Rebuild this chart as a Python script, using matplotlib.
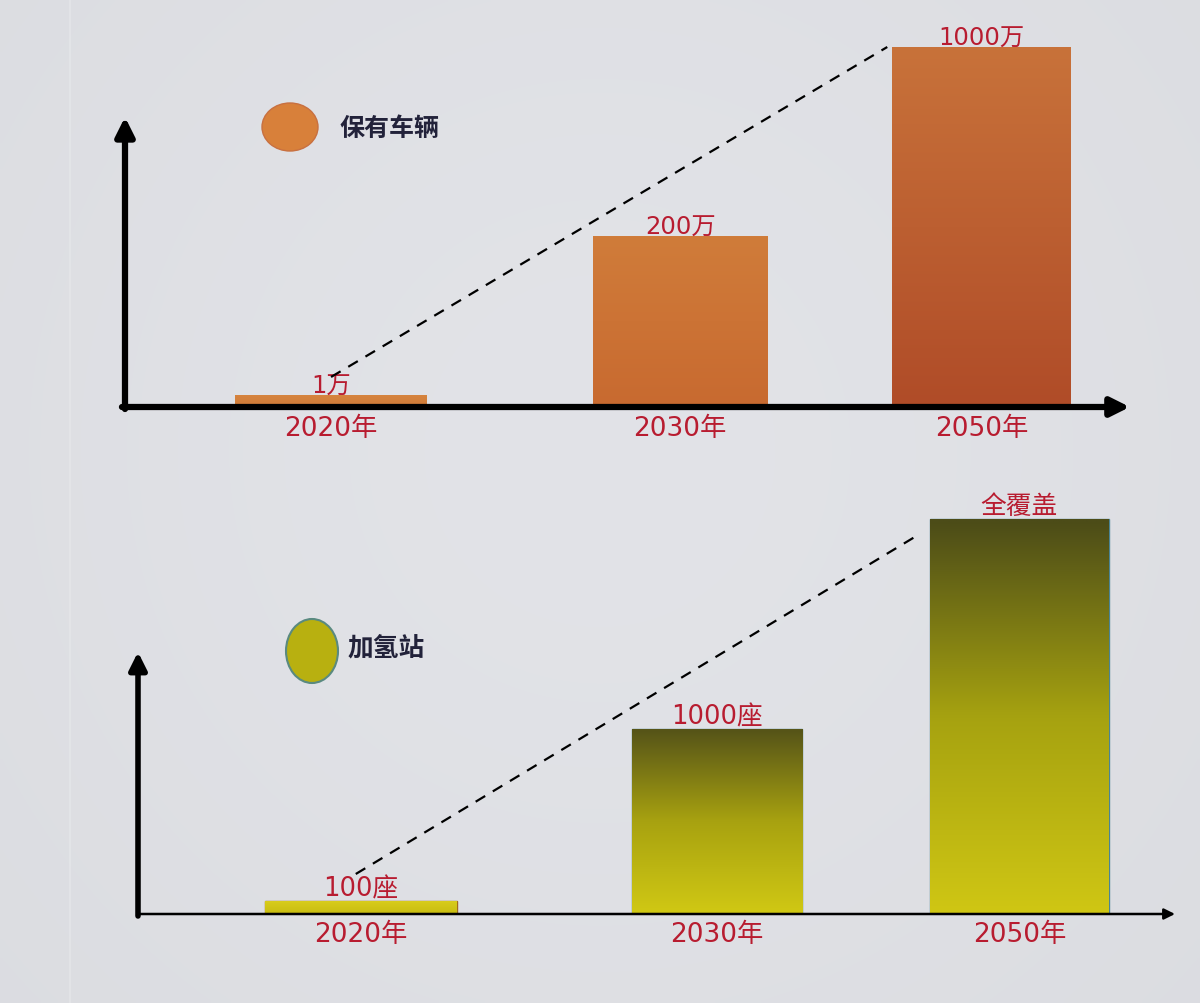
import numpy as np
import matplotlib
matplotlib.use("Agg")
import matplotlib.pyplot as plt
from matplotlib.patches import Ellipse
from matplotlib.colors import to_rgb

plt.rcParams['font.family'] = ['Noto Sans CJK SC', 'DejaVu Sans']

# ---------------- data ----------------
years = ['2020年', '2030年', '2050年']
vehicle_labels = ['1万', '200万', '1000万']
vehicle_heights = [12, 171, 360]          # drawn (not-to-scale) bar heights
station_labels = ['100座', '1000座', '全覆盖']
station_heights = [13, 185, 395]          # drawn (not-to-scale) bar heights
legend_top = '保有车辆'
legend_bottom = '加氢站'

RED = '#b81c30'
NAVY = '#22223a'
BG = '#dcdde1'
LABEL_FONT = ['DejaVu Sans', 'Noto Sans CJK SC']

W, H = 1200, 1004
fig = plt.figure(figsize=(12, 10.04), dpi=100)
fig.patch.set_facecolor(BG)

# background page axes in pixel coordinates
bg = fig.add_axes([0, 0, 1, 1])
bg.set_xlim(0, W)
bg.set_ylim(H, 0)
bg.axis('off')
yy, xx = np.mgrid[0:201, 0:241] / 2.0
shade = 0.855 + 0.035 * np.exp(-(((xx - 60) / 75.0) ** 2 + ((yy - 45) / 75.0) ** 2))
bgimg = np.dstack([shade * 0.995, shade * 1.0, shade * 1.02])
bg.imshow(np.clip(bgimg, 0, 1), extent=[0, W, H, 0], aspect='auto', zorder=0,
          interpolation='bilinear')
bg.plot([70, 70], [0, H], color='#e8eaec', lw=1.2, alpha=0.6, zorder=1)


def make_axes(left, right, base, top):
    ax = fig.add_axes([left / W, (H - base) / H, (right - left) / W, (base - top) / H])
    ax.set_xlim(0, 10)
    ax.set_ylim(0, base - top)
    ax.axis('off')
    ax.patch.set_alpha(0)
    return ax


def gradient_fill(ax, patch, top_color, bottom_color, mid_color=None):
    x0, y0 = patch.get_x(), patch.get_y()
    w, h = patch.get_width(), patch.get_height()
    n = 64
    t = np.linspace(0, 1, n)[:, None]
    c0, c1 = np.array(to_rgb(top_color)), np.array(to_rgb(bottom_color))
    if mid_color is None:
        col = c0 * (1 - t) + c1 * t
    else:
        cm = np.array(to_rgb(mid_color))
        col = np.where(t < 0.5, c0 * (1 - 2 * t) + cm * (2 * t),
                       cm * (2 - 2 * t) + c1 * (2 * t - 1))
    img = np.repeat(col[:, None, :], 8, axis=1)
    im = ax.imshow(img, extent=[x0, x0 + w, y0, y0 + h], aspect='auto',
                   zorder=patch.get_zorder() + 0.1, origin='upper',
                   interpolation='bilinear')
    im.set_clip_path(patch)


# ---------------- top chart: vehicles ----------------
ax1 = make_axes(125, 1140, 408, 10)
pos1 = [2.03, 5.47, 8.44]
wid1 = [1.89, 1.72, 1.76]
bars1 = ax1.bar(pos1, vehicle_heights, width=wid1, color='#cf7a38',
                edgecolor='none', zorder=2)
grad1 = [('#d6843e', '#d07a38'), ('#d07c3a', '#c86a30'), ('#c8723a', '#b04c28')]
for b, (c0, c1) in zip(bars1, grad1):
    gradient_fill(ax1, b, c0, c1)
ax1.set_xlim(0, 10)
ax1.set_ylim(0, 398)

# axes with arrows
ax1.annotate('', xy=(0, 290), xytext=(0, -2), xycoords='data',
             arrowprops=dict(arrowstyle='-|>', lw=4.5, color='black',
                             mutation_scale=28, shrinkA=0, shrinkB=0), annotation_clip=False)
ax1.annotate('', xy=(9.9, 0), xytext=(-0.03, 0), xycoords='data',
             arrowprops=dict(arrowstyle='-|>', lw=4.5, color='black',
                             mutation_scale=28, shrinkA=0, shrinkB=0), annotation_clip=False)

for b, lab, yr in zip(bars1, vehicle_labels, years):
    cx = b.get_x() + b.get_width() / 2
    ax1.annotate(lab, (cx, b.get_height()), xytext=(0, -2), textcoords='offset points',
                 ha='center', va='bottom', color=RED, fontsize=17.5, family=LABEL_FONT)
    ax1.annotate(yr, (cx, 0), xytext=(0, -6), textcoords='offset points',
                 ha='center', va='top', color=RED, fontsize=19, family=LABEL_FONT)

# dashed trend line
b0, b2 = bars1[0], bars1[2]
ax1.plot([b0.get_x() + b0.get_width() / 2, b2.get_x() - 0.05],
         [30, b2.get_height()], ls=(0, (5, 4)), color='black', lw=1.6, zorder=3)

# legend
bg.add_patch(Ellipse((290, 128), 56, 48, facecolor='#d8803a', edgecolor='#c87040', lw=1, zorder=3))
bg.text(340, 129, legend_top, color=NAVY, fontsize=18, va='center', ha='left',
        fontweight='bold')

# ---------------- bottom chart: stations ----------------
ax2 = make_axes(138, 1175, 915, 10)
pos2 = [2.15, 5.58, 8.5]
wid2 = [1.85, 1.64, 1.72]
bars2 = ax2.bar(pos2, station_heights, width=wid2, color='#c8c012',
                edgecolor='#4a8494', lw=1.0, zorder=2)
bars2[0].set_edgecolor('#a06a20')
grad2 = [('#d8cc1c', '#c8bc10', None), ('#565418', '#d0c814', '#a8a210'),
         ('#4c4c18', '#cfc614', '#a6a210')]
for b, (c0, c1, cm) in zip(bars2, grad2):
    gradient_fill(ax2, b, c0, c1, cm)
ax2.set_xlim(0, 10)
ax2.set_ylim(0, 905)

ax2.annotate('', xy=(0, 262), xytext=(0, -2), xycoords='data',
             arrowprops=dict(arrowstyle='-|>', lw=4, color='black',
                             mutation_scale=26, shrinkA=0, shrinkB=0), annotation_clip=False)
ax2.annotate('', xy=(10.0, 0), xytext=(0, 0), xycoords='data',
             arrowprops=dict(arrowstyle='-|>', lw=1.8, color='black',
                             mutation_scale=16, shrinkA=0, shrinkB=0), annotation_clip=False)

for b, lab, yr in zip(bars2, station_labels, years):
    cx = b.get_x() + b.get_width() / 2
    ax2.annotate(lab, (cx, b.get_height()), xytext=(0, 0), textcoords='offset points',
                 ha='center', va='bottom', color=RED, fontsize=18.5, family=LABEL_FONT)
    ax2.annotate(yr, (cx, 0), xytext=(0, -5), textcoords='offset points',
                 ha='center', va='top', color=RED, fontsize=19, family=LABEL_FONT)

b0, b2 = bars2[0], bars2[2]
ax2.plot([b0.get_x() + b0.get_width() / 2 - 0.05, b2.get_x() - 0.15],
         [40, b2.get_height() - 18], ls=(0, (5, 4)), color='black', lw=1.6, zorder=3)

bg.add_patch(Ellipse((312, 652), 52, 64, facecolor='#b8b010', edgecolor='#5a8a80', lw=1.5, zorder=3))
bg.text(348, 648, legend_bottom, color=NAVY, fontsize=18.5, va='center', ha='left',
        fontweight='bold')

fig.savefig('out.png', dpi=100, facecolor=fig.get_facecolor())
